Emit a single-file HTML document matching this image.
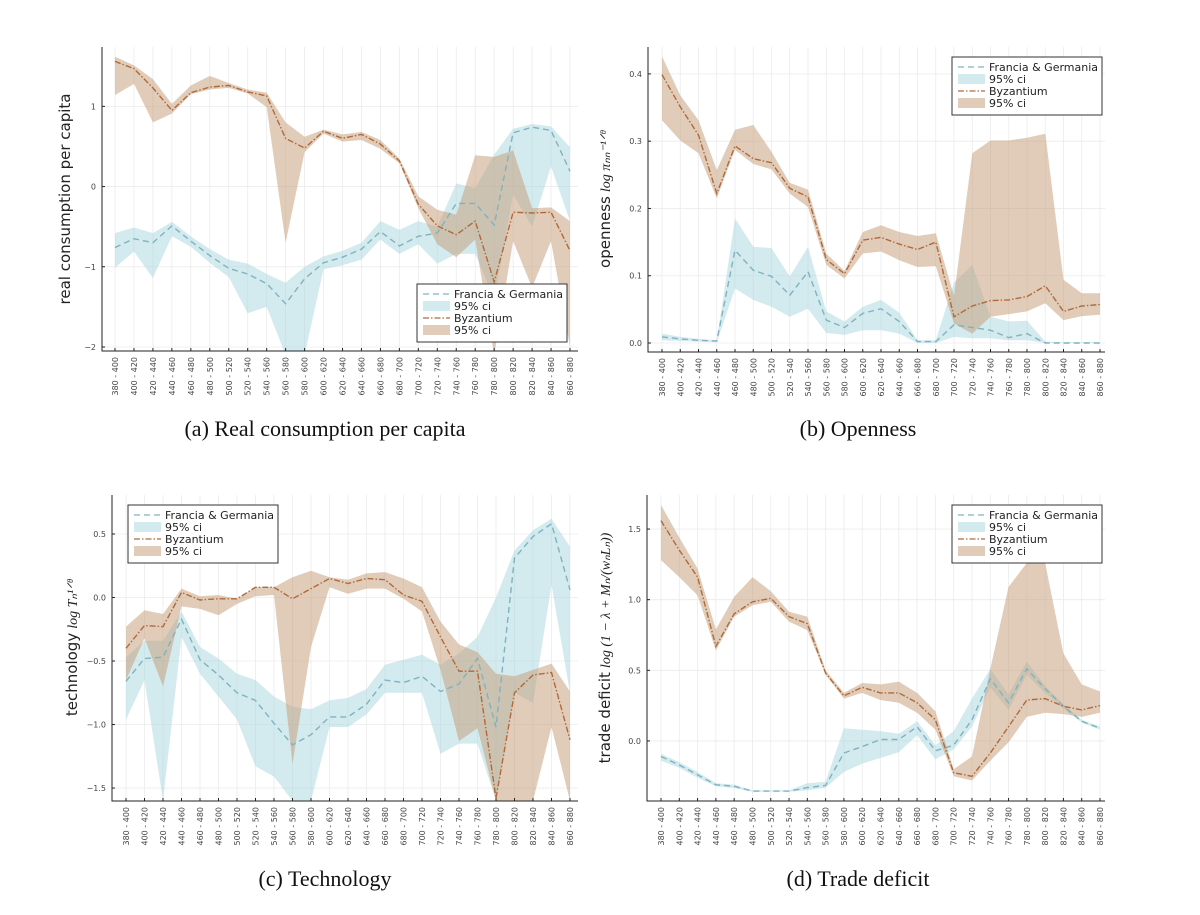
<!DOCTYPE html>
<html><head><meta charset="utf-8">
<style>
html,body{margin:0;padding:0;background:#fff;}
svg{display:block;}
.tick{font-family:"DejaVu Sans","Liberation Sans",sans-serif;font-size:8px;fill:#444;}
.ylab{font-family:"DejaVu Sans","Liberation Sans",sans-serif;font-size:15px;fill:#222;}
.math{font-family:"Liberation Serif",serif;font-style:italic;font-size:14px;fill:#222;}
.leg{font-family:"DejaVu Sans","Liberation Sans",sans-serif;font-size:11px;fill:#222;}
.cap{font-family:"Liberation Serif","DejaVu Serif",serif;font-size:22px;fill:#111;}
</style></head>
<body>
<svg id="fig" width="1200" height="915" viewBox="0 0 1200 915"></svg>
<script>
const categories = ["380 - 400","400 - 420","420 - 440","440 - 460","460 - 480","480 - 500","500 - 520","520 - 540","540 - 560","560 - 580","580 - 600","600 - 620","620 - 640","640 - 660","660 - 680","680 - 700","700 - 720","720 - 740","740 - 760","760 - 780","780 - 800","800 - 820","820 - 840","840 - 860","860 - 880"];

// (a) Real consumption per capita
const aFgMean = [-0.76,-0.65,-0.70,-0.49,-0.68,-0.86,-1.02,-1.09,-1.21,-1.46,-1.15,-0.95,-0.88,-0.78,-0.56,-0.74,-0.62,-0.58,-0.21,-0.21,-0.48,0.67,0.74,0.70,0.19];
const aFgLo = [-1.01,-0.81,-1.14,-0.62,-0.75,-0.95,-1.13,-1.58,-1.50,-2.1,-2.1,-1.03,-0.98,-0.91,-0.66,-0.84,-0.72,-0.96,-0.84,-0.84,-1.4,-0.1,-0.5,0.25,-0.43];
const aFgHi = [-0.58,-0.51,-0.58,-0.44,-0.62,-0.78,-0.91,-0.96,-1.09,-1.2,-1.0,-0.87,-0.80,-0.70,-0.43,-0.54,-0.43,-0.50,0.04,-0.02,0.40,0.72,0.78,0.75,0.49];
const aByMean = [1.56,1.47,1.23,0.95,1.17,1.24,1.26,1.18,1.13,0.60,0.48,0.69,0.60,0.65,0.53,0.32,-0.22,-0.49,-0.60,-0.43,-1.19,-0.32,-0.33,-0.32,-0.80];
const aByLo = [1.14,1.28,0.80,0.91,1.15,1.21,1.23,1.16,0.99,-0.70,0.43,0.66,0.56,0.58,0.47,0.29,-0.27,-0.72,-0.88,-0.66,-2.1,-0.68,-1.26,-0.68,-2.0];
const aByHi = [1.62,1.51,1.34,1.03,1.26,1.38,1.29,1.21,1.17,0.80,0.62,0.71,0.65,0.68,0.58,0.35,-0.12,-0.29,-0.35,0.39,0.37,0.45,-0.27,-0.26,-0.43];
const aTicks = [1,0,-1,-2];
const aTickLabels = ["1","0","\u22121","\u22122"];

// (b) Openness
const bFgMean = [0.009,0.006,0.004,0.003,0.138,0.108,0.099,0.071,0.106,0.034,0.023,0.044,0.051,0.032,0.002,0.002,0.027,0.023,0.019,0.008,0.014,0.0,0.0,0.0,0.0];
const bFgLo = [0.004,0.003,0.002,0.001,0.081,0.064,0.054,0.039,0.051,0.015,0.012,0.019,0.019,0.014,0.0,0.0,0.009,0.007,0.007,0.004,0.004,0.0,0.0,0.0,0.0];
const bFgHi = [0.014,0.009,0.006,0.004,0.185,0.143,0.141,0.099,0.143,0.047,0.032,0.054,0.064,0.045,0.004,0.004,0.09,0.116,0.039,0.032,0.033,0.002,0.001,0.001,0.001];
const bByMean = [0.399,0.351,0.309,0.222,0.293,0.274,0.268,0.230,0.217,0.124,0.103,0.153,0.157,0.147,0.139,0.150,0.039,0.055,0.063,0.064,0.069,0.085,0.047,0.055,0.057];
const bByLo = [0.331,0.301,0.282,0.215,0.287,0.266,0.258,0.222,0.202,0.116,0.096,0.133,0.136,0.123,0.113,0.114,0.029,0.014,0.039,0.043,0.047,0.059,0.034,0.040,0.042];
const bByHi = [0.426,0.368,0.331,0.257,0.317,0.324,0.284,0.238,0.228,0.133,0.107,0.165,0.175,0.165,0.159,0.163,0.07,0.282,0.301,0.301,0.305,0.311,0.094,0.074,0.074];
const bTicks = [0,0.1,0.2,0.3,0.4];
const bTickLabels = ["0.0","0.1","0.2","0.3","0.4"];

// (c) Technology
const cFgMean = [-0.66,-0.48,-0.47,-0.17,-0.49,-0.61,-0.75,-0.81,-0.99,-1.16,-1.08,-0.94,-0.94,-0.84,-0.65,-0.67,-0.62,-0.74,-0.68,-0.48,-1.02,0.31,0.48,0.58,0.06];
const cFgLo = [-0.96,-0.65,-1.6,-0.31,-0.60,-0.78,-0.96,-1.33,-1.41,-1.6,-1.6,-1.02,-1.02,-0.92,-0.75,-0.75,-0.75,-1.23,-1.15,-1.15,-1.6,-0.75,-0.83,0.10,-0.75];
const cFgHi = [-0.47,-0.34,-0.34,-0.11,-0.39,-0.48,-0.60,-0.65,-0.78,-0.86,-0.88,-0.81,-0.79,-0.72,-0.53,-0.49,-0.45,-0.53,-0.44,-0.31,0.0,0.37,0.53,0.62,0.40];
const cByMean = [-0.40,-0.22,-0.23,0.04,-0.02,-0.01,-0.01,0.08,0.08,-0.01,0.07,0.15,0.11,0.15,0.14,0.02,-0.03,-0.31,-0.58,-0.58,-1.58,-0.75,-0.61,-0.59,-1.12];
const cByLo = [-0.65,-0.32,-0.70,-0.07,-0.09,-0.14,-0.05,0.01,0.02,-1.31,-0.39,0.08,0.03,0.07,0.07,-0.01,-0.11,-0.57,-1.13,-1.03,-1.6,-1.6,-1.6,-1.02,-1.6];
const cByHi = [-0.23,-0.10,-0.13,0.07,0.01,0.02,-0.01,0.08,0.08,0.16,0.21,0.16,0.14,0.19,0.20,0.15,0.08,-0.19,-0.37,-0.43,-0.60,-0.62,-0.57,-0.52,-0.74];
const cTicks = [0.5,0,-0.5,-1,-1.5];
const cTickLabels = ["0.5","0.0","\u22120.5","\u22121.0","\u22121.5"];

// (d) Trade deficit
const dFgMean = [-0.11,-0.17,-0.24,-0.31,-0.32,-0.355,-0.355,-0.355,-0.33,-0.315,-0.085,-0.04,0.01,0.01,0.10,-0.07,-0.03,0.15,0.44,0.27,0.51,0.37,0.245,0.14,0.09];
const dFgLo = [-0.14,-0.19,-0.26,-0.32,-0.335,-0.36,-0.36,-0.36,-0.35,-0.33,-0.22,-0.16,-0.12,-0.08,0.04,-0.13,-0.06,0.10,0.38,0.22,0.47,0.34,0.23,0.13,0.08];
const dFgHi = [-0.09,-0.15,-0.22,-0.30,-0.31,-0.35,-0.35,-0.35,-0.30,-0.29,0.09,0.08,0.07,0.05,0.14,-0.03,0.07,0.30,0.51,0.33,0.56,0.39,0.26,0.15,0.10];
const dByMean = [1.56,1.35,1.16,0.67,0.90,0.985,1.01,0.88,0.83,0.48,0.32,0.38,0.34,0.34,0.27,0.15,-0.225,-0.25,-0.085,0.10,0.29,0.30,0.245,0.22,0.25];
const dByLo = [1.28,1.16,1.03,0.64,0.88,0.96,0.985,0.845,0.785,0.47,0.30,0.34,0.29,0.27,0.20,0.08,-0.25,-0.28,-0.14,-0.01,0.17,0.20,0.19,0.17,0.20];
const dByHi = [1.67,1.44,1.22,0.79,1.02,1.16,1.06,0.915,0.88,0.50,0.34,0.41,0.40,0.42,0.34,0.21,-0.20,-0.11,0.51,1.09,1.26,1.26,0.62,0.40,0.35];
const dTicks = [0,0.5,1,1.5];
const dTickLabels = ["0.0","0.5","1.0","1.5"];

const NS = "http://www.w3.org/2000/svg";
const fig = document.getElementById("fig");
function mk(tag, attrs, parent) {
  const e = document.createElementNS(NS, tag);
  for (const k in attrs) e.setAttribute(k, attrs[k]);
  (parent || fig).appendChild(e);
  return e;
}

function drawPanel(p) {
  const g = mk("g", {});
  
  
  const n = categories.length;
  const xs = i => p.x0 + (p.x1 - p.x0) * i / (n - 1);
  const ys = v => p.bottom - (v - p.ymin) / (p.ymax - p.ymin) * (p.bottom - p.top);
  const clipId = "clip-" + p.name;
  const cp = mk("clipPath", {id: clipId}, g);
  mk("rect", {x: p.left, y: p.top, width: p.right - p.left, height: p.bottom - p.top}, cp);
  const grid = mk("g", {stroke: "#ebebeb", "stroke-width": 0.8}, g);
  
  
  categories.forEach((c, i) => mk("line", {x1: xs(i), x2: xs(i), y1: p.top, y2: p.bottom}, grid));
  p.ticks.forEach(t => mk("line", {x1: p.left, x2: p.right, y1: ys(t), y2: ys(t)}, grid));
  const plot = mk("g", {"clip-path": "url(#" + clipId + ")"}, g);
  function band(lo, hi, fill, nm) {
    let d = "";
    hi.forEach((v, i) => d += (i ? "L" : "M") + xs(i).toFixed(1) + "," + ys(v).toFixed(1));
    for (let i = lo.length - 1; i >= 0; i--) d += "L" + xs(i).toFixed(1) + "," + ys(lo[i]).toFixed(1);
    const e = mk("path", {d: d + "Z", fill: fill, "fill-opacity": 0.5, stroke: "none"}, plot);
    
    
  }
  function line(vals, stroke, dash, nm) {
    const pts = vals.map((v, i) => xs(i).toFixed(1) + "," + ys(v).toFixed(1)).join(" ");
    const e = mk("polyline", {points: pts, fill: "none", stroke: stroke, "stroke-width": 1.4, "stroke-dasharray": dash}, plot);
    
    
  }
  band(p.fgLo, p.fgHi, "#a7d5e0", "francia-ci-band");
  band(p.byLo, p.byHi, "#c49a74", "byzantium-ci-band");
  line(p.fgMean, "#7fb3bf", "6,4", "francia-line");
  line(p.byMean, "#b06a3a", "6,2,1.5,2", "byzantium-line");
  const ax = mk("path", {d: `M${p.left},${p.top}V${p.bottom}H${p.right}`, fill: "none", stroke: "#222", "stroke-width": 1}, g);
  
  
  p.ticks.forEach((t, i) => {
    mk("line", {x1: p.left, x2: p.left + 3, y1: ys(t), y2: ys(t), stroke: "#222"}, g);
    const tl = mk("text", {x: p.left - 6, y: ys(t) + 3, "text-anchor": "end", class: "tick"}, g);
    tl.textContent = p.tickLabels[i];
    
    
  });
  categories.forEach((c, i) => {
    mk("line", {x1: xs(i), x2: xs(i), y1: p.bottom, y2: p.bottom - 3, stroke: "#222"}, g);
    const tl = mk("text", {x: 0, y: 0, "text-anchor": "end", class: "tick",
      transform: `translate(${xs(i) + 3},${p.bottom + 6}) rotate(-90)`}, g);
    tl.textContent = c;
    
    
  });
  const yl = mk("text", {x: 0, y: 0, "text-anchor": "middle", class: "ylab",
    transform: `translate(${p.ylabX},${(p.top + p.bottom) / 2 + p.ylabDy}) rotate(-90)`}, g);
  
  
  const t1 = mk("tspan", {}, yl); t1.textContent = p.ylab;
  if (p.ymath) { const t2 = mk("tspan", {class: "math", dx: 4}, yl); t2.textContent = p.ymath; }
  const lg = mk("g", {}, g);
  
  
  mk("rect", {x: p.lx, y: p.ly, width: 150, height: 58, fill: "#fff", stroke: "#333", "stroke-width": 1}, lg);
  const rows = [["Francia & Germania", "line", "#7fb3bf", "6,4"], ["95% ci", "band", "#a7d5e0"], ["Byzantium", "line", "#b06a3a", "6,2,1.5,2"], ["95% ci", "band", "#c49a74"]];
  rows.forEach((r, k) => {
    const cy = p.ly + 10 + k * 12;
    if (r[1] === "line") mk("line", {x1: p.lx + 6, x2: p.lx + 33, y1: cy, y2: cy, stroke: r[2], "stroke-width": 1.3, "stroke-dasharray": r[3]}, lg);
    else mk("rect", {x: p.lx + 6, y: cy - 5, width: 27, height: 10, fill: r[2], "fill-opacity": 0.5}, lg);
    const t = mk("text", {x: p.lx + 37, y: cy + 4, class: "leg"}, lg);
    t.textContent = r[0];
    
    
  });
  const cap = mk("text", {x: p.capX, y: p.capY, "text-anchor": "middle", class: "cap"}, g);
  cap.textContent = p.caption;
  
  
}

drawPanel({name: "panel-a-consumption", left: 102, right: 578, top: 47, bottom: 351, x0: 115, x1: 570, ymin: -2.05, ymax: 1.74,
  ticks: aTicks, tickLabels: aTickLabels, fgMean: aFgMean, fgLo: aFgLo, fgHi: aFgHi, byMean: aByMean, byLo: aByLo, byHi: aByHi,
  ylab: "real consumption per capita", ymath: "", ylabX: 70, ylabDy: 0, lx: 417, ly: 284,
  caption: "(a) Real consumption per capita", capX: 325, capY: 436});
drawPanel({name: "panel-b-openness", left: 648, right: 1105, top: 47, bottom: 352, x0: 662, x1: 1100, ymin: -0.0134, ymax: 0.44,
  ticks: bTicks, tickLabels: bTickLabels, fgMean: bFgMean, fgLo: bFgLo, fgHi: bFgHi, byMean: bByMean, byLo: bByLo, byHi: bByHi,
  ylab: "openness", ymath: "log \u03C0\u2099\u2099\u207B\u00B9\u141F\u1DBF", ylabX: 610, ylabDy: 0, lx: 952, ly: 57,
  caption: "(b) Openness", capX: 858, capY: 436});
drawPanel({name: "panel-c-technology", left: 112, right: 578, top: 495, bottom: 801, x0: 126, x1: 570, ymin: -1.602, ymax: 0.807,
  ticks: cTicks, tickLabels: cTickLabels, fgMean: cFgMean, fgLo: cFgLo, fgHi: cFgHi, byMean: cByMean, byLo: cByLo, byHi: cByHi,
  ylab: "technology", ymath: "log T\u2099\u00B9\u141F\u1DBF", ylabX: 77, ylabDy: 0, lx: 128, ly: 505,
  caption: "(c) Technology", capX: 325, capY: 886});
drawPanel({name: "panel-d-trade-deficit", left: 647, right: 1105, top: 495, bottom: 801, x0: 661, x1: 1100, ymin: -0.425, ymax: 1.741,
  ticks: dTicks, tickLabels: dTickLabels, fgMean: dFgMean, fgLo: dFgLo, fgHi: dFgHi, byMean: dByMean, byLo: dByLo, byHi: dByHi,
  ylab: "trade deficit", ymath: "log (1 \u2212 \u03BB + M\u2099/(w\u2099L\u2099))", ylabX: 610, ylabDy: 0, lx: 952, ly: 505,
  caption: "(d) Trade deficit", capX: 858, capY: 886});
</script>
</body></html>
